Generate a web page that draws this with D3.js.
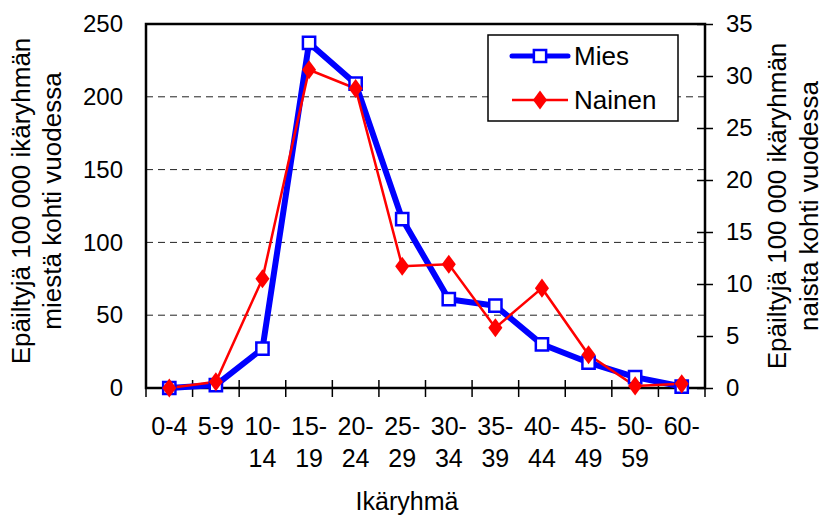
<!DOCTYPE html>
<html>
<head>
<meta charset="utf-8">
<script src="https://cdn.jsdelivr.net/npm/d3@7"></script>
<style>
  body { margin: 0; background: #fff; }
  svg { display: block; font-family: "Liberation Sans", Arial, sans-serif; }
</style>
</head>
<body>
<svg id="chart" width="824" height="518"></svg>
<script>
const ageGroups = ["0-4", "5-9", "10-14", "15-19", "20-24", "25-29", "30-34", "35-39", "40-44", "45-49", "50-59", "60-"];
const miesValues = [0, 2, 27, 237, 209, 116, 61, 56.5, 30, 17.5, 7.5, 1];
const nainenValues = [0, 0.6, 10.5, 30.6, 28.8, 11.7, 11.9, 5.8, 9.6, 3.2, 0.2, 0.4];
const leftTicks = [0, 50, 100, 150, 200, 250];
const rightTicks = [0, 5, 10, 15, 20, 25, 30, 35];
const gridValues = [50, 100, 150, 200];

const svg = d3.select("#chart");
const margin = { top: 24, right: 119, bottom: 130, left: 146 };
const width = +svg.attr("width");
const height = +svg.attr("height");

// scales
const x = d3.scaleBand()
    .domain(ageGroups)
    .range([margin.left, width - margin.right])
    .padding(0);

const yLeft = d3.scaleLinear()
    .domain([0, 250])
    .range([height - margin.bottom, margin.top]);

const yRight = d3.scaleLinear()
    .domain([0, 35])
    .range([height - margin.bottom, margin.top]);

const cx = d => x(d) + x.bandwidth() / 2;
const x0 = margin.left, x1 = width - margin.right;
const yBottom = height - margin.bottom;

// dashed gridlines
svg.append("g")
    .selectAll("line")
    .data(gridValues)
    .enter().append("line")
    .attr("x1", x0)
    .attr("x2", x1)
    .attr("y1", d => yLeft(d))
    .attr("y2", d => yLeft(d))
    .attr("stroke", "#222")
    .attr("stroke-width", 1)
    .attr("stroke-dasharray", "7,5");

// left axis (labels only)
const leftAxis = svg.append("g")
    .attr("transform", `translate(${x0},0)`)
    .call(d3.axisLeft(yLeft).tickValues(leftTicks).tickSize(0).tickPadding(23));
leftAxis.select(".domain").remove();
leftAxis.selectAll("text").attr("font-size", 24).attr("fill", "#000").attr("font-family", null);

// right axis, ticks cross the line
const rightAxis = svg.append("g")
    .attr("transform", `translate(${x1},0)`)
    .call(d3.axisRight(yRight).tickValues(rightTicks).tickSize(8).tickPadding(13));
rightAxis.select(".domain").remove();
rightAxis.selectAll(".tick line").attr("x1", -8).attr("stroke", "#000").attr("stroke-width", 1.5);
rightAxis.selectAll("text").attr("font-size", 24).attr("fill", "#000").attr("font-family", null);

// bottom axis: labels at band centres, ticks at band edges
const bottomAxis = svg.append("g")
    .attr("transform", `translate(0,${yBottom})`)
    .call(d3.axisBottom(x).tickSize(0).tickPadding(0));
bottomAxis.select(".domain").remove();
bottomAxis.selectAll("text").each(function(d) {
    const t = d3.select(this).text("").attr("font-size", 25).attr("fill", "#000")
        .attr("font-family", null).attr("y", 0).attr("dy", null);
    const parts = d.split("-");
    if (parts[1] === "" || d.length <= 3) {
        t.append("tspan").attr("x", 0).attr("y", 47).text(d);
    } else {
        t.append("tspan").attr("x", 0).attr("y", 47).text(parts[0] + "-");
        t.append("tspan").attr("x", 0).attr("y", 79).text(parts[1]);
    }
});

const edges = ageGroups.map(d => x(d)).concat([x1]);
svg.append("g")
    .selectAll("line")
    .data(edges)
    .enter().append("line")
    .attr("x1", d => d).attr("x2", d => d)
    .attr("y1", yBottom - 8).attr("y2", yBottom + 9)
    .attr("stroke", "#000")
    .attr("stroke-width", 1.5);

// plot frame
svg.append("rect")
    .attr("x", x0)
    .attr("y", margin.top)
    .attr("width", x1 - x0)
    .attr("height", yBottom - margin.top)
    .attr("fill", "none")
    .attr("stroke", "#000")
    .attr("stroke-width", 2.5);

// Mies series (left axis)
const miesLine = d3.line()
    .x((d, i) => cx(ageGroups[i]))
    .y(d => yLeft(d));

svg.append("path")
    .datum(miesValues)
    .attr("d", miesLine)
    .attr("fill", "none")
    .attr("stroke", "#0000ff")
    .attr("stroke-width", 6)
    .attr("stroke-linejoin", "round");

// Nainen series (right axis)
const nainenLine = d3.line()
    .x((d, i) => cx(ageGroups[i]))
    .y(d => yRight(d));

svg.append("path")
    .datum(nainenValues)
    .attr("d", nainenLine)
    .attr("fill", "none")
    .attr("stroke", "#ff0000")
    .attr("stroke-width", 2.5);

const square = d3.symbol().type(d3.symbolSquare).size(150);
const diamond = d3.symbol().type(d3.symbolDiamond).size(130);

svg.append("g")
    .selectAll("path")
    .data(miesValues)
    .enter().append("path")
    .attr("d", square)
    .attr("transform", (d, i) => `translate(${cx(ageGroups[i])},${yLeft(d)})`)
    .attr("fill", "#fff")
    .attr("stroke", "#0000ff")
    .attr("stroke-width", 2.5);

svg.append("g")
    .selectAll("path")
    .data(nainenValues)
    .enter().append("path")
    .attr("d", diamond)
    .attr("transform", (d, i) => `translate(${cx(ageGroups[i])},${yRight(d)}) scale(1.15,0.9)`)
    .attr("fill", "#ff0000");

// legend
const legend = svg.append("g");
legend.append("rect")
    .attr("x", 488).attr("y", 35)
    .attr("width", 190).attr("height", 86)
    .attr("fill", "#fff")
    .attr("stroke", "#000")
    .attr("stroke-width", 1.5);

legend.append("line")
    .attr("x1", 512).attr("x2", 568).attr("y1", 56).attr("y2", 56)
    .attr("stroke", "#0000ff").attr("stroke-width", 5).attr("stroke-linecap", "round");
legend.append("path")
    .attr("d", square)
    .attr("transform", "translate(540,56)")
    .attr("fill", "#fff").attr("stroke", "#0000ff").attr("stroke-width", 2.5);
legend.append("text")
    .attr("x", 574).attr("y", 65)
    .attr("font-size", 26)
    .text("Mies");

legend.append("line")
    .attr("x1", 512).attr("x2", 568).attr("y1", 100).attr("y2", 100)
    .attr("stroke", "#ff0000").attr("stroke-width", 2.5);
legend.append("path")
    .attr("d", diamond)
    .attr("transform", "translate(540,100) scale(1.15,0.9)")
    .attr("fill", "#ff0000");
legend.append("text")
    .attr("x", 574).attr("y", 109)
    .attr("font-size", 26)
    .text("Nainen");

// axis titles
const leftTitle = svg.append("g").attr("font-size", 26).attr("text-anchor", "middle");
leftTitle.append("text")
    .attr("transform", "translate(30,201) rotate(-90)")
    .text("Epäiltyjä 100 000 ikäryhmän");
leftTitle.append("text")
    .attr("transform", "translate(61,201) rotate(-90)")
    .text("miestä kohti vuodessa");

const rightTitle = svg.append("g").attr("font-size", 26).attr("text-anchor", "middle");
rightTitle.append("text")
    .attr("transform", "translate(786,206) rotate(-90)")
    .text("Epäiltyjä 100 000 ikäryhmän");
rightTitle.append("text")
    .attr("transform", "translate(818,206) rotate(-90)")
    .text("naista kohti vuodessa");

svg.append("text")
    .attr("x", 407).attr("y", 510)
    .attr("font-size", 25)
    .attr("text-anchor", "middle")
    .text("Ikäryhmä");
</script>
</body>
</html>
